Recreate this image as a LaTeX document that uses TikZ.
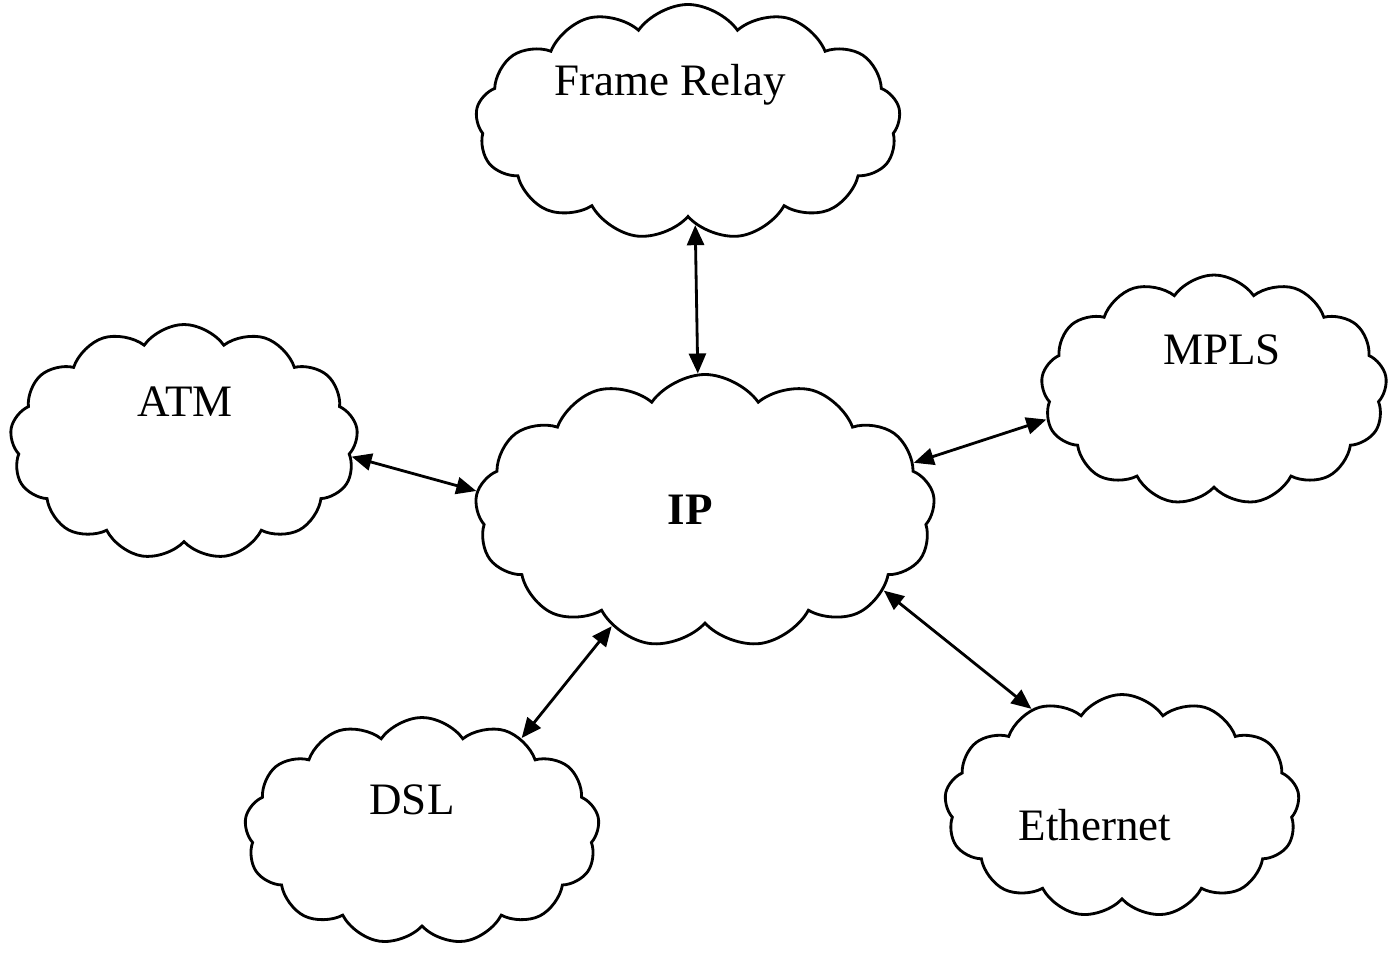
\documentclass[tikz,border=0pt]{standalone}
\usepackage{fontspec}
\setmainfont{Liberation Serif}
\usepackage{tikz}
\usetikzlibrary{shapes.symbols, arrows.meta, positioning, calc}

\begin{document}
\begin{tikzpicture}[
    net/.style={cloud, draw=black, thick, fill=white, cloud puffs=13, cloud puff arc=110,
                cloud ignores aspect, inner sep=0pt},
    netlabel/.style={font=\fontsize{12.8}{15}\selectfont, inner sep=0pt},
    link/.style={{Triangle[length=0.2cm, width=0.17cm]}-{Triangle[length=0.2cm, width=0.17cm]}, thick, draw=black}
]
    \useasboundingbox[fill=white] (0,0) rectangle (13.88,9.58);

    % Clouds
    \node[net, minimum width=4.6cm, minimum height=2.73cm] (ip) at (7.05,4.47) {};
    \node[net, minimum width=4.25cm, minimum height=2.35cm] (fr) at (6.88,8.36) {};
    \node[net, minimum width=3.48cm, minimum height=2.35cm] (atm) at (1.84,5.16) {};
    \node[net, minimum width=3.46cm, minimum height=2.3cm] (mpls) at (12.14,5.68) {};
    \node[net, minimum width=3.55cm, minimum height=2.27cm] (dsl) at (4.22,1.27) {};
    \node[net, minimum width=3.55cm, minimum height=2.23cm] (eth) at (11.22,1.52) {};

    % Labels
    \node[netlabel, font=\fontsize{12.8}{15}\selectfont\bfseries] (iptxt) at ($(ip)+(-0.15,0.01)$) {IP};
    \node[netlabel] (frtxt) at ($(fr)+(-0.18,0.37)$) {Frame Relay};
    \node[netlabel] (atmtxt) at ($(atm)+(0.01,0.40)$) {ATM};
    \node[netlabel] (mplstxt) at ($(mpls)+(0.08,0.40)$) {MPLS};
    \node[netlabel] (dsltxt) at ($(dsl)+(-0.10,0.31)$) {DSL};
    \node[netlabel] (ethtxt) at ($(eth)+(-0.27,-0.19)$) {Ethernet};

    % Arrows
    \draw[link] (fr.-86) -- (ip.93);
    \draw[link] (atm.-5) -- (ip.175);
    \draw[link] (ip.13) -- (mpls.190);
    \draw[link] (ip.231) -- (dsl.43);
    \draw[link] (ip.-24) -- (eth.133);

\end{tikzpicture}
\end{document}
